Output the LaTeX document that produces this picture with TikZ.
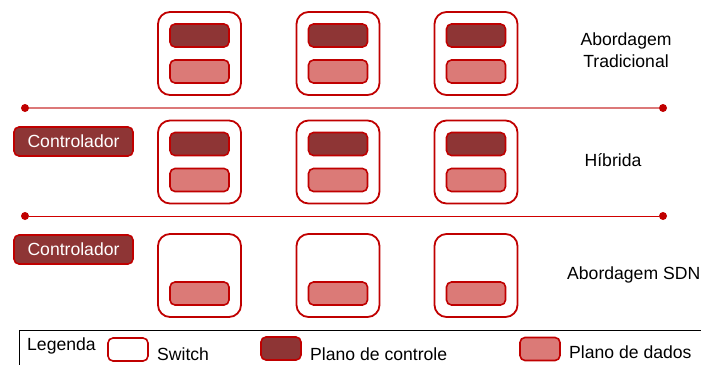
\documentclass[tikz,border=0pt]{standalone}
\usepackage{fontspec}
\setmainfont{Liberation Sans}
\definecolor{swred}{HTML}{C00000}
\definecolor{ctrlfill}{HTML}{8E3535}
\definecolor{datafill}{HTML}{DB7A77}
\definecolor{sepsoft}{HTML}{DC7878}
\definecolor{sephard}{HTML}{D00000}
\newcommand{\lblfont}{\fontsize{17.6}{22}\selectfont}
\tikzset{
  switchbox/.style={draw=swred, line width=1.8pt, rounded corners=12pt,
    minimum width=83pt, minimum height=83pt, fill=white, inner sep=0pt},
  planebox/.style={draw=swred, line width=1.6pt, rounded corners=5pt,
    minimum width=59pt, minimum height=23pt, inner sep=0pt},
  ctrlplane/.style={planebox, fill=ctrlfill},
  dataplane/.style={planebox, fill=datafill},
  ctrlbox/.style={draw=swred, line width=1.6pt, fill=ctrlfill, rounded corners=5pt,
    minimum width=119pt, minimum height=29pt, inner sep=0pt, text=white, font=\lblfont},
  enddot/.style={circle, fill=swred, minimum size=8pt, inner sep=0pt},
  lbltext/.style={font=\lblfont, inner sep=0pt, text=black},
  legicon/.style={draw=swred, line width=1.6pt, rounded corners=5pt,
    minimum width=40pt, minimum height=23pt, inner sep=0pt},
}
\begin{document}
\begin{tikzpicture}[x=1pt,y=-1pt]
  \useasboundingbox (0,0) rectangle (701,364);
  \clip (0,0) rectangle (701,364);

  % switches: three columns, three rows
  \foreach \c/\x in {1/199.5,2/338,3/476}{
    \foreach \r/\y in {1/53.5,2/162,3/275.5}{
      \node[switchbox] (sw\r\c) at (\x,\y) {};
      \node[dataplane] (dp\r\c) at (\x,\y+18) {};
    }
    \node[ctrlplane] (cp1\c) at (\x,35.5) {};
    \node[ctrlplane] (cp2\c) at (\x,144) {};
  }

  % separators between the approaches
  \node[enddot] (sepAl) at (25,108) {};
  \node[enddot] (sepAr) at (663,108) {};
  \draw[sepsoft, line width=1.5pt] (sepAl) -- (sepAr);
  \node[enddot] (sepBl) at (25,216) {};
  \node[enddot] (sepBr) at (663,216) {};
  \draw[sephard, line width=1pt] (sepBl) -- (sepBr);

  % centralized controllers
  \node[ctrlbox] (ctrlH) at (73.5,141.5) {Controlador};
  \node[ctrlbox] (ctrlS) at (73.5,249.5) {Controlador};

  % approach labels
  \node[lbltext, align=center] (lblTrad) at (626,50) {Abordagem\\Tradicional};
  \node[lbltext] (lblHib) at (613,160) {Híbrida};
  \node[lbltext, anchor=west] (lblSdn) at (567,275) {Abordagem SDN};

  % legend
  \draw[black, line width=1pt] (19,330) rectangle (720,380);
  \node[lbltext, anchor=west] (legT) at (27,346) {Legenda};
  \node[legicon, fill=white] (legSw) at (128,349.5) {};
  \node[lbltext, anchor=west] (legSwT) at (157,354) {Switch};
  \node[legicon, fill=ctrlfill] (legCp) at (281,348.5) {};
  \node[lbltext, anchor=west] (legCpT) at (310,354) {Plano de controle};
  \node[legicon, fill=datafill] (legDp) at (540,349) {};
  \node[lbltext, anchor=west] (legDpT) at (569,352) {Plano de dados};
\end{tikzpicture}
\end{document}
